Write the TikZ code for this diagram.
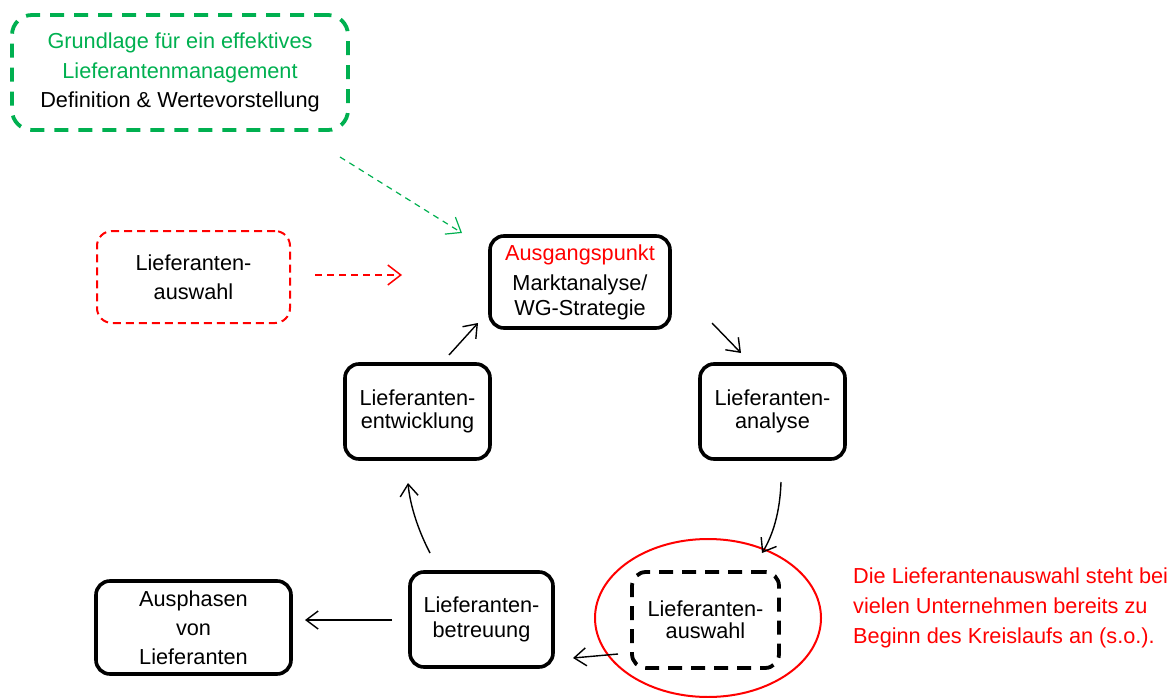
\documentclass[tikz,border=0pt]{standalone}
\usepackage{fontspec}
\setmainfont{Liberation Sans}
\usetikzlibrary{arrows.meta,shapes.geometric}
\definecolor{mygreen}{RGB}{0,176,80}
\definecolor{myred}{RGB}{255,0,0}
\tikzset{
  boxsolid/.style={draw=black,line width=3.6pt,rounded corners=14pt,inner sep=0pt,align=center},
  txt/.style={font=\fontsize{21.7}{#1}\selectfont},
  conn/.style={line width=1.4pt,-{Straight Barb[length=12pt,width=18pt,line width=1.4pt]}},
}
\begin{document}
\begin{tikzpicture}[x=1pt,y=-1pt]
\useasboundingbox (0,0) rectangle (1172,698);
% boxes
\node[draw=mygreen,line width=3.8pt,dash pattern=on 14pt off 10pt,rounded corners=20pt,minimum width=336pt,minimum height=115pt,align=center,txt=29.5] (grund) at (180,72.5)
  {\textcolor{mygreen}{Grundlage für ein effektives}\\\textcolor{mygreen}{Lieferantenmanagement}\\Definition \& Wertevorstellung};
\node[draw=myred,line width=2pt,dash pattern=on 8pt off 5pt,rounded corners=15pt,minimum width=193pt,minimum height=92pt,align=center,txt=29] (rauswahl) at (193.5,277)
  {Lieferanten-\\auswahl};
\node[boxsolid,minimum width=180pt,minimum height=92pt,txt=25] (start) at (580,282)
  {\textcolor{myred}{Ausgangspunkt}\\[5pt]Marktanalyse/\\WG-Strategie};
\node[boxsolid,minimum width=145pt,minimum height=95pt,txt=23] (analyse) at (772.5,411.5)
  {Lieferanten-\\analyse};
\node[boxsolid,minimum width=145pt,minimum height=95pt,txt=23] (entw) at (417.5,411.5)
  {Lieferanten-\\entwicklung};
\node[boxsolid,minimum width=143pt,minimum height=95pt,txt=25] (betr) at (481.5,619.5)
  {Lieferanten-\\betreuung};
\node[boxsolid,minimum width=195pt,minimum height=93pt,txt=29] (aus) at (193.5,627.5)
  {Ausphasen\\von\\Lieferanten};
\node[draw=myred,line width=2pt,ellipse,minimum width=226pt,minimum height=158pt] (ell) at (708,618) {};
\node[draw=black,line width=3.8pt,dash pattern=on 14pt off 9pt,rounded corners=14pt,minimum width=147pt,minimum height=96pt,inner sep=0pt,align=center,txt=22] (bauswahl) at (705.5,620)
  {Lieferanten-\\auswahl};
\node[anchor=west,align=left,text=myred,txt=30,inner sep=0pt] (note) at (853,608)
  {Die Lieferantenauswahl steht bei\\vielen Unternehmen bereits zu\\Beginn des Kreislaufs an (s.o.).};
% connector ends
\coordinate (g1) at (340,157); \coordinate (g2) at (462,233);
\coordinate (r1) at (315,275); \coordinate (r2) at (402,275);
\coordinate (a1) at (712,323); \coordinate (a2) at (741,353);
\coordinate (b1) at (781,482); \coordinate (b2) at (762,553);
\coordinate (c1) at (618,654); \coordinate (c2) at (573,658);
\coordinate (d1) at (392,620); \coordinate (d2) at (305,620);
\coordinate (e1) at (430,553); \coordinate (e2) at (408,483);
\coordinate (f1) at (449,355); \coordinate (f2) at (478,323);
% connectors
\draw[draw=mygreen,line width=1.2pt,dash pattern=on 6pt off 5pt,-{Straight Barb[length=13pt,width=20pt,line width=1.2pt]}] (g1) -- (g2);
\draw[draw=myred,line width=1.5pt,dash pattern=on 7pt off 5pt,-{Straight Barb[length=13pt,width=20pt,line width=1.5pt]}] (r1) -- (r2);
\draw[conn] (a1) -- (a2);
\draw[conn] (b1) .. controls (780,512) and (773,535) .. (b2);
\draw[conn] (c1) -- (c2);
\draw[conn] (d1) -- (d2);
\draw[conn] (e1) .. controls (418,530) and (410,505) .. (e2);
\draw[conn] (f1) -- (f2);
\end{tikzpicture}
\end{document}
